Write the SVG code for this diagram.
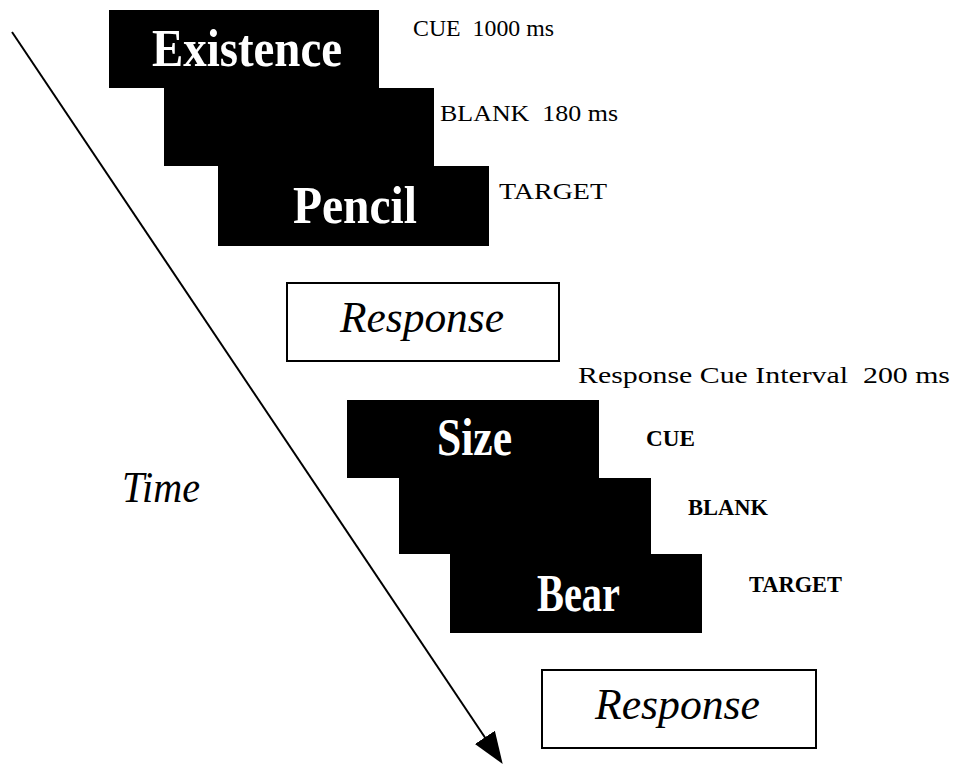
<svg xmlns="http://www.w3.org/2000/svg" width="964" height="764" viewBox="0 0 964 764">
<defs>
<style>
.scr{fill:#000}
.resp{fill:#fff;stroke:#000;stroke-width:2}
.word{font-family:"Liberation Serif","Times New Roman",serif;font-weight:bold;font-size:52px;fill:#fff}
.lab{font-family:"Liberation Serif","Times New Roman",serif;font-size:23px;fill:#000;white-space:pre}
.labb{font-family:"Liberation Serif","Times New Roman",serif;font-size:23px;font-weight:bold;fill:#000}
.it{font-family:"Liberation Serif","Times New Roman",serif;font-style:italic;font-size:44px;fill:#000}
.conn{stroke:#000;stroke-width:2;fill:none}
</style>
<marker id="ah" markerUnits="userSpaceOnUse" markerWidth="34" markerHeight="28" refX="2" refY="14" orient="auto">
<path d="M0,2 L32,14 L0,26 Z" fill="#000"/>
</marker>
</defs>
<rect width="964" height="764" fill="#fff"/>
<g id="connectors">
<line class="conn" x1="12" y1="32" x2="486" y2="739" marker-end="url(#ah)"/>
</g>
<g id="cue1">
<rect class="scr" x="109" y="10" width="270" height="78"/>
<text class="word" x="152" y="66" textLength="190" lengthAdjust="spacingAndGlyphs">Existence</text>
<text class="lab" x="413" y="36" textLength="141" lengthAdjust="spacingAndGlyphs">CUE  1000 ms</text>
</g>
<g id="blank1">
<rect class="scr" x="164" y="88" width="270" height="78"/>
<text class="lab" x="440" y="121" textLength="178" lengthAdjust="spacingAndGlyphs">BLANK  180 ms</text>
</g>
<g id="target1">
<rect class="scr" x="218" y="166" width="271" height="80"/>
<text class="word" x="293" y="223" textLength="124" lengthAdjust="spacingAndGlyphs">Pencil</text>
<text class="lab" x="499" y="199" textLength="108" lengthAdjust="spacingAndGlyphs">TARGET</text>
</g>
<g id="response1">
<rect class="resp" x="287" y="283" width="272" height="78"/>
<text class="it" x="340" y="332" textLength="164" lengthAdjust="spacingAndGlyphs">Response</text>
</g>
<g id="rci">
<text class="lab" x="578" y="383" font-size="21" textLength="372" lengthAdjust="spacingAndGlyphs">Response Cue Interval  200 ms</text>
</g>
<g id="cue2">
<rect class="scr" x="347" y="400" width="252" height="78"/>
<text class="word" x="437" y="455" textLength="75" lengthAdjust="spacingAndGlyphs">Size</text>
<text class="labb" x="646" y="446" textLength="49" lengthAdjust="spacingAndGlyphs">CUE</text>
</g>
<g id="blank2">
<rect class="scr" x="399" y="478" width="252" height="76"/>
<text class="labb" x="688" y="515" textLength="80" lengthAdjust="spacingAndGlyphs">BLANK</text>
</g>
<g id="target2">
<rect class="scr" x="450" y="554" width="252" height="79"/>
<text class="word" x="537" y="611" textLength="83" lengthAdjust="spacingAndGlyphs">Bear</text>
<text class="labb" x="749" y="592" textLength="93" lengthAdjust="spacingAndGlyphs">TARGET</text>
</g>
<g id="response2">
<rect class="resp" x="542" y="670" width="274" height="78"/>
<text class="it" x="595" y="719" textLength="165" lengthAdjust="spacingAndGlyphs">Response</text>
</g>
<g id="time">
<text class="it" x="122" y="502" font-size="44" textLength="78" lengthAdjust="spacingAndGlyphs">Time</text>
</g>
</svg>
